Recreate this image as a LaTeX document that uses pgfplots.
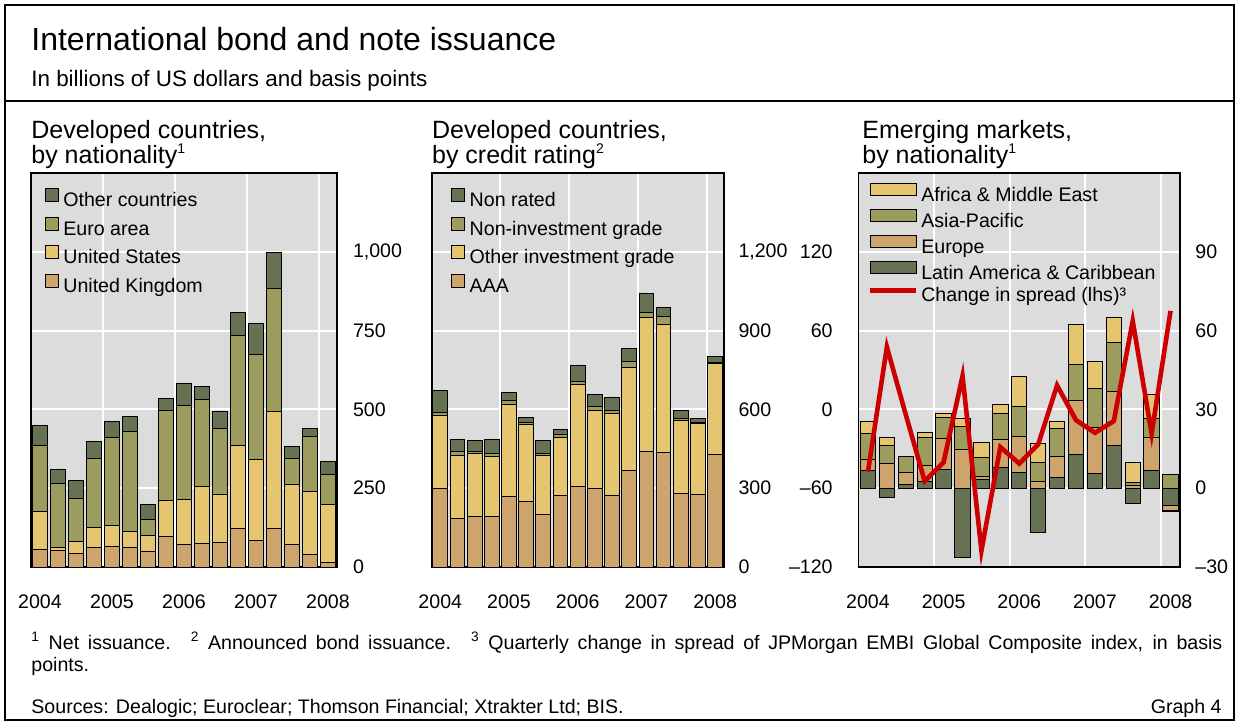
\documentclass[border=0pt]{standalone}
\usepackage{fontspec}
\setmainfont{Liberation Sans}
\usepackage{pgfplots}
\usepackage{pgfplotstable}
\pgfplotsset{compat=1.18}

\definecolor{panelbg}{RGB}{220,220,220}
\definecolor{bisdark}{RGB}{103,113,84}
\definecolor{bisolive}{RGB}{155,156,93}
\definecolor{bisyellow}{RGB}{229,197,112}
\definecolor{bistan}{RGB}{205,164,108}
\definecolor{bisred}{RGB}{204,0,0}

% quarterly, 2004Q1 - 2008Q1 (q = 1..17)
\pgfplotstableread{
q  uk  us  euro other
1  55  120 212  62
2  52  10  203  45
3  43  39  135  59
4  62  64  219  53
5  66  66  279  51
6  63  50  316  48
7  50  50  50   49
8  96  116 284  39
9  70  144 299  68
10 75  180 276  41
11 78  152 208  55
12 122 264 347  74
13 83  259 331  98
14 122 370 391  116
15 72  191 81   37
16 41  198 175  27
17 15  183 96   40
}\nationality

\pgfplotstableread{
q  aaa oig nig nr
1  299 279 11  82
2  184 241 14  45
3  194 239 7   42
4  194 226 13  53
5  270 349 14  30
6  248 294 9   19
7  201 222 10  49
8  273 221 9   22
9  308 388 10  62
10 297 299 14  46
11 273 311 13  50
12 367 392 23  51
13 439 510 19  75
14 437 486 30  36
15 281 277 9   27
16 277 270 2   18
17 427 349 2   25
}\rating

% emerging markets, positive parts
\pgfplotstableread{
q  latam europe asia africa
1  6.7   4.1    10.0 4.6
2  0     9.3    7.1  2.9
3  1.5   4.3    6.2  0
4  2.5   6.0    10.8 1.9
5  7.1   11.9   8.1  1.4
6  0     14.7   8.8  3.0
7  3.3   1.0    7.4  5.6
8  7.9   10.8   9.8  3.4
9  6.0   13.6   11.4 11.7
10 0     2.4    7.4  7.2
11 4.1   8.1    10.4 2.7
12 12.8  20.6   13.7 15.1
13 5.5   17.5   14.9 10.3
14 16.4  20.3   18.8 9.3
15 0     1.2    0.8  7.7
16 6.9   12.5   7.0  9.3
17 0     0      5.2  0
}\empos

% emerging markets, negative parts
\pgfplotstableread{
q  latam europe asia africa
2  -3.6  0      0    0
6  -26.3 0      0    0
10 -16.9 0      0    0
15 -5.8  0      0    0
17 -6.6  -1.7   0    -0.4
}\emneg

\pgfplotstableread{
q  spread
1  -47.5
2  47.5
3  -4
4  -54.7
5  -40.2
6  25.4
7  -107.5
8  -28.7
9  -41.2
10 -26.7
11 18.3
12 -8.2
13 -17.8
14 -8.9
15 67.3
16 -18.3
17 75
}\spread

\tikzset{seg/.style={draw=black, line width=0.5bp, fill=#1}}
\newcommand{\txt}{\fontsize{9.8bp}{11bp}\selectfont}
\newcommand{\ptitle}{\fontsize{12.5bp}{12.5bp}\selectfont\lineskiplimit=-20bp\relax}
\newcommand{\fnmark}[1]{\raisebox{4.6bp}{\fontsize{7bp}{7bp}\selectfont #1}}

\pgfplotsset{
  frame/.style={scale only axis, height=197bp, xmin=0.5, xmax=17.5, anchor=south west},
  bis/.style={
    frame,
    xtick={1,5,9,13,17}, xticklabels={2004,2005,2006,2007,2008},
    minor xtick={4.5,8.5,12.5,16.5},
    xminorgrids=true, ymajorgrids=true,
    major tick length=0pt, minor tick length=0pt,
    grid style={white, line width=1bp},
    minor grid style={white, line width=1bp},
    axis background/.style={fill=panelbg},
    axis line style={line width=0.8bp},
    tick label style={font=\txt},
    xticklabel style={anchor=base, yshift=-20.5bp},
    yticklabel pos=right,
    ybar stacked, bar width=0.83,
  },
  boxlegend/.style={
    legend image code/.code={\draw[##1] (0bp,0.2bp) rectangle (6.5bp,6.7bp);},
    reverse legend, legend cell align=left,
    legend style={draw=none, fill=none, at={(0,1)}, anchor=north west,
      xshift=#1, yshift=-7.3bp, inner sep=0pt, row sep=2.6bp, font=\txt,
      nodes={inner sep=0pt, text height=7.2bp, text depth=2.2bp},
      /tikz/every odd column/.append style={column sep=2.2bp}},
  },
  emlegend/.style={
    legend image code/.code={\draw[##1] (0bp,0.3bp) rectangle (23bp,6.3bp);},
    legend cell align=left,
    legend style={draw=none, fill=none, at={(0,1)}, anchor=north west,
      xshift=4.6bp, yshift=-4.8bp, inner sep=0pt, row sep=1.8bp, font=\txt,
      nodes={inner sep=0pt, text height=7.2bp, text depth=2.2bp},
      /tikz/every odd column/.append style={column sep=1.3bp}},
  },
  linelegend/.style={
    legend image code/.code={\draw[##1] (0bp,3.3bp) -- (23bp,3.3bp);}},
}

\begin{document}
\begin{tikzpicture}
\useasboundingbox (0,0) rectangle (619.5bp,-362bp);
\draw[line width=1.1bp] (2.5bp,-2.5bp) rectangle (617bp,-360bp);
\draw[line width=1.1bp] (2.5bp,-50.5bp) -- (617bp,-50.5bp);

\node[anchor=base west, inner sep=0pt, font=\fontsize{16bp}{18bp}\selectfont] at (15.5bp,-25bp) {International bond and note issuance};
\node[anchor=base west, inner sep=0pt, font=\fontsize{11.2bp}{13bp}\selectfont] at (15.5bp,-43bp) {In billions of US dollars and basis points};

\begin{scope}[every node/.style={anchor=base west, inner sep=0pt, align=left, font=\ptitle}]
\node at (15.5bp,-81.5bp) {Developed countries,\\by nationality\fnmark{1}};
\node at (215.85bp,-81.5bp) {Developed countries,\\by credit rating\fnmark{2}};
\node at (431bp,-81.5bp) {Emerging markets,\\by nationality\fnmark{1}};
\end{scope}

% panel 1
\begin{axis}[bis, width=153bp, at={(15.5bp,-283.5bp)},
  ymin=0, ymax=1250, ytick={0,250,500,750,1000},
  yticklabels={0,250,500,750,{1,000}},
  yticklabel style={anchor=west, inner sep=0pt, xshift=7.8bp},
  boxlegend=6.8bp]
\addplot[seg=bistan] table[x=q,y=uk]{\nationality};
\addplot[seg=bisyellow] table[x=q,y=us]{\nationality};
\addplot[seg=bisolive] table[x=q,y=euro]{\nationality};
\addplot[seg=bisdark] table[x=q,y=other]{\nationality};
\legend{United Kingdom,United States,Euro area,Other countries}
\draw[line width=0.8bp] (rel axis cs:0,0) rectangle (rel axis cs:1,1);
\end{axis}

% panel 2
\begin{axis}[bis, width=146bp, at={(215.85bp,-283.5bp)},
  ymin=0, ymax=1500, ytick={0,300,600,900,1200},
  yticklabels={0,300,600,900,{1,200}},
  yticklabel style={anchor=west, inner sep=0pt, xshift=7.2bp}, bar width=0.86,
  boxlegend=9.6bp]
\addplot[seg=bistan] table[x=q,y=aaa]{\rating};
\addplot[seg=bisyellow] table[x=q,y=oig]{\rating};
\addplot[seg=bisolive] table[x=q,y=nig]{\rating};
\addplot[seg=bisdark] table[x=q,y=nr]{\rating};
\legend{AAA,Other investment grade,Non-investment grade,Non rated}
\draw[line width=0.8bp] (rel axis cs:0,0) rectangle (rel axis cs:1,1);
\end{axis}

% panel 3: bars on the right-hand scale
\begin{axis}[bis, width=160.75bp, at={(429.25bp,-283.5bp)},
  ymin=-30, ymax=120, ytick={-30,0,30,60,90},
  yticklabels={–30,0,30,60,90},
  yticklabel style={anchor=west, inner sep=0pt, xshift=7.5bp}, bar width=0.81]
\addplot[seg=bisdark] table[x=q,y=latam]{\empos};
\addplot[seg=bistan] table[x=q,y=europe]{\empos};
\addplot[seg=bisolive] table[x=q,y=asia]{\empos};
\addplot[seg=bisyellow] table[x=q,y=africa]{\empos};
\end{axis}
\begin{axis}[frame, width=160.75bp, at={(429.25bp,-283.5bp)},
  ymin=-30, ymax=120, hide axis, ybar stacked, bar width=0.81]
\addplot[seg=bisdark] table[x=q,y=latam]{\emneg};
\addplot[seg=bistan] table[x=q,y=europe]{\emneg};
\addplot[seg=bisolive] table[x=q,y=asia]{\emneg};
\addplot[seg=bisyellow] table[x=q,y=africa]{\emneg};
\end{axis}
% line on the left-hand scale
\begin{axis}[frame, width=160.75bp, at={(429.25bp,-283.5bp)},
  ymin=-120, ymax=180, ytick={-120,-60,0,60,120},
  yticklabels={–120,–60,0,60,120},
  xtick=\empty, major tick length=0pt,
  axis line style={line width=0.8bp},
  tick label style={font=\txt},
  yticklabel style={anchor=east, inner sep=0pt, xshift=-12.75bp},
  emlegend]
\addlegendimage{seg=bisyellow}
\addlegendimage{seg=bisolive}
\addlegendimage{seg=bistan}
\addlegendimage{seg=bisdark}
\addplot[bisred, line width=2.3bp, linelegend] table[x=q,y=spread]{\spread};
\legend{Africa \& Middle East,Asia-Pacific,Europe,Latin America \& Caribbean,Change in spread (lhs)³}
\end{axis}

\node[anchor=base west, inner sep=0pt, text width=595.5bp, align=justify, font=\txt] at (15.5bp,-324.5bp)
  {\textsuperscript{1}\ Net issuance.\hspace{10bp}\textsuperscript{2}\ Announced bond issuance.\hspace{10bp}\textsuperscript{3}\ Quarterly change in spread of JPMorgan EMBI Global Composite index, in basis\linebreak points.};
\begin{scope}[every node/.style={anchor=base west, inner sep=0pt, font=\txt}]
\node at (15.5bp,-356.5bp) {Sources: Dealogic; Euroclear; Thomson Financial; Xtrakter Ltd; BIS.};
\node[anchor=base east] at (611bp,-356.5bp) {Graph 4};
\end{scope}
\end{tikzpicture}
\end{document}
